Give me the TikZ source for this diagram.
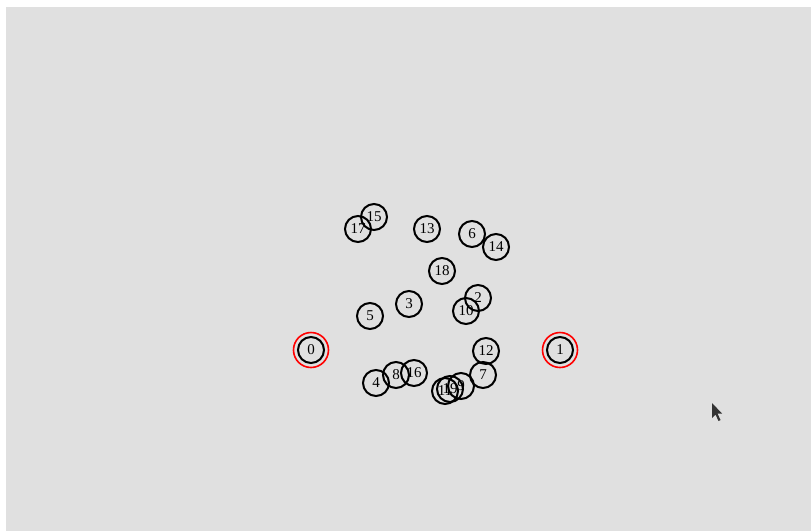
\documentclass[tikz,border=0pt]{standalone}
\usepackage{fontspec}
\setmainfont{Liberation Serif}
\begin{document}
\begin{tikzpicture}[x=1pt,y=-1pt,
  vert/.style={circle,draw=black,line width=2pt,minimum size=26pt,inner sep=0pt,font=\fontsize{15}{15}\selectfont},
  halo/.style={circle,draw=red,line width=1.6pt,minimum size=35pt,inner sep=0pt}]
\useasboundingbox (0,0) rectangle (811,531);
\fill[white] (0,0) rectangle (811,531);
\fill[black!12] (6,7) rectangle (811,531);
\node[halo] (h0) at (311,350) {};
\node[halo] (h1) at (560,350) {};
\node[vert] (n0) at (311,350) {0};
\node[vert] (n1) at (560,350) {1};
\node[vert] (n17) at (358,229) {17};
\node[vert] (n15) at (374,217) {15};
\node[vert] (n13) at (427,229) {13};
\node[vert] (n6) at (472,234) {6};
\node[vert] (n14) at (496,247) {14};
\node[vert] (n18) at (442,271) {18};
\node[vert] (n2) at (478,298) {2};
\node[vert] (n10) at (466,311) {10};
\node[vert] (n3) at (409,304) {3};
\node[vert] (n5) at (370,316) {5};
\node[vert] (n12) at (486,351) {12};
\node[vert] (n7) at (483,375) {7};
\node[vert] (n4) at (376,383) {4};
\node[vert] (n8) at (396,375) {8};
\node[vert] (n16) at (414,373) {16};
\node[vert] (n9) at (461,386) {9};
\node[vert] (n19) at (450,389) {19};
\node[vert] (n11) at (445,391) {11};
\fill[black!80] (712,403) -- (712,418) -- (715.5,414.5) -- (718.5,421) -- (720.5,420) -- (717.5,413.5) -- (722,413.5) -- cycle;
\end{tikzpicture}
\end{document}
